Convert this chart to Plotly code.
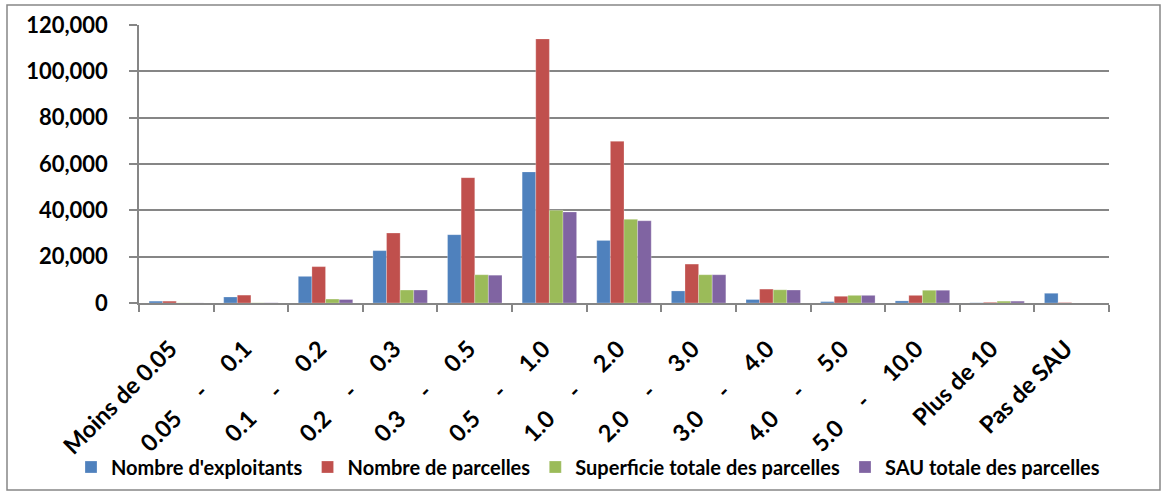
import plotly.graph_objects as go

NB = "\u00a0" * 5
categories = ["Moins de 0.05", "0.05" + NB + "-" + NB + "0.1", "0.1" + NB + "-" + NB + "0.2",
              "0.2" + NB + "-" + NB + "0.3", "0.3" + NB + "-" + NB + "0.5", "0.5" + NB + "-" + NB + "1.0",
              "1.0" + NB + "-" + NB + "2.0", "2.0" + NB + "-" + NB + "3.0", "3.0" + NB + "-" + NB + "4.0",
              "4.0" + NB + "-" + NB + "5.0", "5.0" + NB + "-" + NB + "10.0", "Plus de 10", "Pas de SAU"]

exploitants = [800, 2600, 11500, 22600, 29500, 56600, 27000, 5200, 1500, 600, 900, 100, 4200]
parcelles = [800, 3400, 15700, 30200, 54100, 114000, 69800, 16800, 6000, 2900, 3300, 300, 200]
superficie = [50, 100, 1700, 5600, 12200, 40000, 36100, 12200, 5700, 3300, 5500, 800, 0]
sau = [40, 90, 1500, 5600, 12000, 39300, 35500, 12200, 5600, 3300, 5500, 800, 0]

series = [
    ("Nombre d'exploitants", exploitants, "#4F81BD"),
    ("Nombre de parcelles", parcelles, "#C0504D"),
    ("Superficie totale des parcelles", superficie, "#9BBB59"),
    ("SAU totale des parcelles", sau, "#8064A2"),
]

fig = go.Figure()
for name, vals, col in series:
    fig.add_trace(go.Bar(x=categories, y=vals, name=name,
                         marker=dict(color=col, line=dict(color="rgba(255,255,255,0.5)", width=0.5))))

FONT = "Lato"
fig.update_layout(
    width=1165, height=493,
    paper_bgcolor="white", plot_bgcolor="white",
    margin=dict(l=139, r=56, t=25, b=190, autoexpand=False),
    barmode="group", bargap=0.27, bargroupgap=0,
    font=dict(family=FONT, color="black"),
    showlegend=True,
    legend=dict(orientation="h", xref="paper", yref="paper",
                x=(71 - 139) / 970, xanchor="left", y=(303 - 467) / 278, yanchor="middle",
                bgcolor="rgba(0,0,0,0)",
                font=dict(family=FONT, size=20, color="black", weight="bold"),
                traceorder="normal"),
    xaxis=dict(
        type="category", tickangle=-45, tickson="boundaries",
        ticks="outside", ticklen=7, tickcolor="#868686", tickwidth=1.5,
        showline=True, linecolor="#868686", linewidth=1.5,
        showgrid=False, ticklabelstandoff=21, ticklabelshift=-6,
        tickfont=dict(family=FONT, size=23.5, color="black", weight="bold"),
    ),
    yaxis=dict(
        range=[0, 120000], dtick=20000, tickformat=",",
        ticks="outside", ticklen=8, tickcolor="#868686", tickwidth=1.5,
        showline=True, linecolor="#868686", linewidth=1.5,
        showgrid=True, gridcolor="#868686", gridwidth=1.5,
        zeroline=False, ticklabelstandoff=17,
        tickfont=dict(family=FONT, size=22, color="black", weight="bold"),
    ),
    shapes=[dict(type="rect", xref="paper", yref="paper",
                 x0=(7 - 139) / 970, x1=(1160 - 139) / 970,
                 y0=(303 - 490) / 278, y1=(303 - 5) / 278,
                 line=dict(color="#868686", width=1.5), fillcolor="rgba(0,0,0,0)", layer="below")],
)

fig.write_html("out.html", config={"displayModeBar": False},
               post_script="document.body.style.margin='0';document.body.style.overflow='hidden';")
